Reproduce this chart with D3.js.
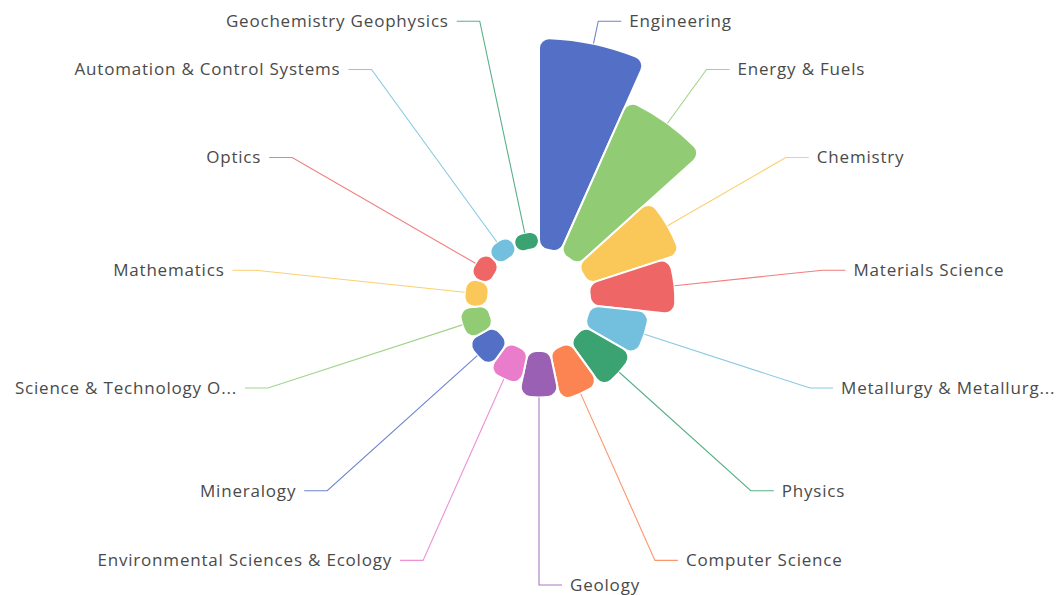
<!DOCTYPE html>
<html>
<head>
<meta charset="utf-8">
<script src="https://cdn.jsdelivr.net/npm/d3@7/dist/d3.min.js"></script>
<style>
  html, body { margin: 0; padding: 0; background: #fff; }
  svg { display: block; }
</style>
</head>
<body>
<svg id="chart" width="1061" height="595"></svg>
<script>
// ---- data ----
const categories = [
  "Engineering", "Energy & Fuels", "Chemistry", "Materials Science",
  "Metallurgy & Metallurgical Engineering", "Physics", "Computer Science", "Geology",
  "Environmental Sciences & Ecology", "Mineralogy", "Science & Technology Other Topics",
  "Mathematics", "Optics", "Automation & Control Systems", "Geochemistry Geophysics"
];
const labelTexts = [
  "Engineering", "Energy & Fuels", "Chemistry", "Materials Science",
  "Metallurgy & Metallurg...", "Physics", "Computer Science", "Geology",
  "Environmental Sciences & Ecology", "Mineralogy", "Science & Technology O...",
  "Mathematics", "Optics", "Automation & Control Systems", "Geochemistry Geophysics"
];
const values = [500, 397, 231, 202, 142, 135, 122, 110, 84, 76, 70, 56, 53, 49, 42];
const palette = ["#5470c6", "#91cc75", "#fac858", "#ee6666", "#73c0de", "#3ba272",
                 "#fc8452", "#9a60b4", "#ea7ccc"];

// ---- layout ----
const cx = 539, cy = 300;
const r0 = 51, R = 262;
const lineLen = 23, lineLen2 = 23, textGap = 8;

const svg = d3.select("#chart");
const g = svg.append("g").attr("transform", `translate(${cx},${cy})`);

const data = categories.map((c, i) => ({ name: c, label: labelTexts[i], value: values[i], i }));

const rScale = d3.scaleLinear().domain([0, d3.max(values)]).range([r0, R]);
const color = d3.scaleOrdinal().domain(d3.range(categories.length)).range(palette);

// rose type "area": equal angles, radius by value
const pie = d3.pie().sort(null).value(() => 1);
const arcs = pie(data);

const arc = d3.arc()
  .innerRadius(r0)
  .outerRadius(d => rScale(d.data.value))
  .cornerRadius(10);

g.selectAll("path.slice")
  .data(arcs)
  .join("path")
  .attr("class", "slice")
  .attr("d", arc)
  .attr("fill", d => color(d.data.i))
  .attr("stroke", "#fff")
  .attr("stroke-width", 2)
  .attr("stroke-linejoin", "round");

// label lines and labels
const labelG = g.append("g");
arcs.forEach(d => {
  const mid = (d.startAngle + d.endAngle) / 2;
  const dx = Math.sin(mid), dy = -Math.cos(mid);
  const side = dx < 0 ? -1 : 1;
  const r = rScale(d.data.value);
  const p1 = [dx * r, dy * r];
  const p2 = [dx * (R + lineLen), dy * (R + lineLen)];
  const p3 = [p2[0] + side * lineLen2, p2[1]];
  labelG.append("path")
    .attr("d", d3.line()([p1, p2, p3]))
    .attr("fill", "none")
    .attr("stroke", color(d.data.i))
    .attr("stroke-width", 1.1)
    .attr("stroke-opacity", 0.85);
  labelG.append("text")
    .attr("x", p3[0] + side * textGap)
    .attr("y", p3[1])
    .attr("dy", "0.35em")
    .attr("text-anchor", side < 0 ? "end" : "start")
    .attr("font-family", "'Open Sans', 'Noto Sans', sans-serif")
    .attr("font-size", 17)
    .attr("letter-spacing", "0.8px")
    .attr("fill", "#4a4a4a")
    .text(d.data.label);
});
</script>
</body>
</html>
